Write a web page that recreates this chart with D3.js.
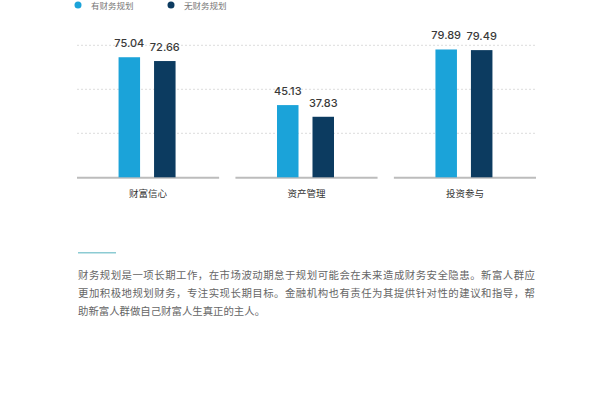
<!DOCTYPE html>
<html>
<head>
<meta charset="utf-8">
<script src="https://cdn.jsdelivr.net/npm/d3@7"></script>
<style>
  html, body { margin: 0; padding: 0; background: #fff; }
  svg { display: block; }
</style>
</head>
<body>
<div id="chart"></div>
<script>

//Data
var categories = ["财富信心", "资产管理", "投资参与"];
var seriesNames = ["有财务规划", "无财务规划"];
var withPlan = [75.04, 45.13, 79.89];
var withoutPlan = [72.66, 37.83, 79.49];
var gridValues = [27.5, 55, 82.5];
var noteLines = [
    "财务规划是一项长期工作，在市场波动期怠于规划可能会在未来造成财务安全隐患。新富人群应",
    "更加积极地规划财务，专注实现长期目标。金融机构也有责任为其提供针对性的建议和指导，帮",
    "助新富人群做自己财富人生真正的主人。"
];

var makeChart = function() {

    //Width and Height
    var w = 600;
    var h = 400;
    var left = 77, right = 536, baseY = 177.3;
    var colors = ["#1ba3d9", "#0c3b60"];
    var font = "Inter, 'Noto Sans CJK SC', sans-serif";
    var cjk = "'Noto Sans CJK SC', sans-serif";

    var table = categories.map(function(c, i) {
        return {cat: c, values: [withPlan[i], withoutPlan[i]]};
    });

    //Scales
    var y = d3.scaleLinear().domain([0, 110]).range([baseY, baseY - 176]);

    var x0 = d3.scaleBand()
        .domain(categories)
        .range([left, right])
        .paddingInner(0.103)
        .paddingOuter(0);

    var pair = 57;
    var x1 = d3.scaleBand()
        .domain(seriesNames)
        .range([x0.bandwidth() / 2 - pair / 2 - 1, x0.bandwidth() / 2 + pair / 2 - 1])
        .paddingInner(0.394)
        .paddingOuter(0);

    var chart = d3.select("#chart")
        .append("svg")
        .attr("width", w)
        .attr("height", h);

    chart.append("rect")
        .attr("width", w)
        .attr("height", h)
        .attr("fill", "#fff");

    //Legend at the top edge
    var legend = chart.append("g").attr("class", "legend");
    var lgX = [78, 171];
    seriesNames.forEach(function(s, i) {
        legend.append("circle")
            .attr("cx", lgX[i])
            .attr("cy", 5)
            .attr("r", 3.5)
            .attr("fill", colors[i]);
        legend.append("text")
            .attr("x", lgX[i] + 13)
            .attr("y", 9)
            .text(s)
            .style("font-family", cjk)
            .style("font-size", "8.5px")
            .style("fill", "#777");
    });

    //Dotted gridlines
    chart.append("g")
        .attr("class", "grid")
        .selectAll("line")
        .data(gridValues)
        .enter()
        .append("line")
        .attr("x1", left)
        .attr("x2", right)
        .attr("y1", d => y(d))
        .attr("y2", d => y(d))
        .attr("stroke", "#dcdcdc")
        .attr("stroke-width", 1)
        .attr("stroke-dasharray", "2,2");

    //Panels
    var panel = chart.append("g")
        .selectAll("g")
        .data(table)
        .enter()
        .append("g")
        .attr("transform", d => "translate(" + x0(d.cat) + ",0)");

    panel.append("line")
        .attr("x1", 0)
        .attr("x2", x0.bandwidth())
        .attr("y1", baseY + 0.5)
        .attr("y2", baseY + 0.5)
        .attr("stroke", "#bcbcbc")
        .attr("stroke-width", 2);

    panel.selectAll("rect")
        .data(d => d.values.map((v, i) => ({s: seriesNames[i], v: v, i: i})))
        .enter()
        .append("rect")
        .attr("x", d => x1(d.s))
        .attr("y", d => y(d.v))
        .attr("width", x1.bandwidth())
        .attr("height", d => baseY - y(d.v))
        .attr("fill", d => colors[d.i]);

    panel.selectAll(".val")
        .data(d => d.values.map((v, i) => ({s: seriesNames[i], v: v, i: i})))
        .enter()
        .append("text")
        .attr("class", "val")
        .attr("x", d => x1(d.s) + x1.bandwidth() / 2)
        .attr("y", d => y(d.v) - 10)
        .attr("text-anchor", "middle")
        .text(d => d3.format(".2f")(d.v))
        .style("font-family", font)
        .style("font-size", "11px")
        .style("font-weight", "500")
        .style("fill", "#3a3a3a");

    panel.append("text")
        .attr("x", x1.range()[0] + pair / 2 + 1)
        .attr("y", 197)
        .attr("text-anchor", "middle")
        .text(d => d.cat)
        .style("font-family", cjk)
        .style("font-size", "9.5px")
        .style("fill", "#333");

    //Short accent line and paragraph
    chart.append("line")
        .attr("x1", 78)
        .attr("x2", 116)
        .attr("y1", 252.7)
        .attr("y2", 252.7)
        .attr("stroke", "#8ccbd3")
        .attr("stroke-width", 1.5);

    chart.append("g")
        .selectAll("text")
        .data(noteLines)
        .enter()
        .append("text")
        .attr("x", 78)
        .attr("y", (d, i) => 279 + i * 18.2)
        .attr("textLength", (d, i) => i < 2 ? 457 : null)
        .attr("lengthAdjust", "spacing")
        .text(d => d)
        .style("font-family", cjk)
        .style("font-size", "10.4px")
        .style("fill", "#666");
};

makeChart();
</script>
</body>
</html>
